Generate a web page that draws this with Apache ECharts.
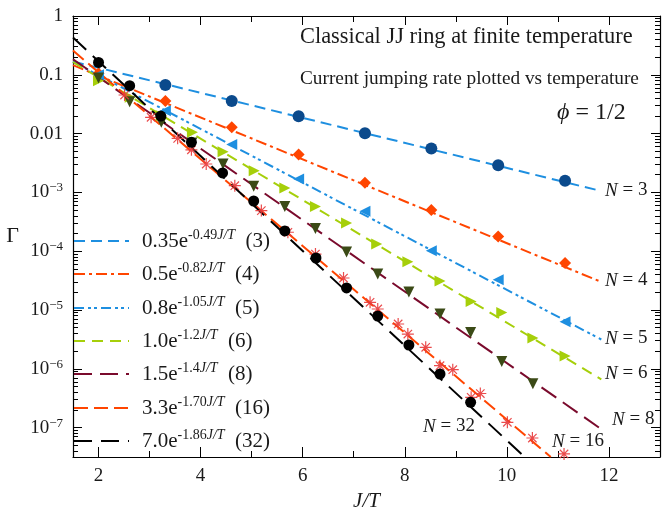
<!DOCTYPE html>
<html>
<head>
<meta charset="utf-8">
<script src="https://cdn.jsdelivr.net/npm/echarts@6/dist/echarts.min.js"></script>
<style>
  html, body { margin: 0; padding: 0; background: #fff; }
  #chart { width: 664px; height: 511px; }
</style>
</head>
<body>
<div id="chart"></div>
<script>
const SERIF = '"Liberation Serif", "Times New Roman", serif';
const INK = '#1a1a1a';

// fits  Γ = A e^{-b J/T}, drawn between two end points (straight on log axis)
const fitNames = ['fit3', 'fit4', 'fit5', 'fit6', 'fit8', 'fit16', 'fit32'];
const fitPrefactor = ['0.35', '0.5', '0.8', '1.0', '1.5', '3.3', '7.0'];
const fitExponent = ['-0.49', '-0.82', '-1.05', '-1.2', '-1.4', '-1.70', '-1.86'];
const ringSizes = [3, 4, 5, 6, 8, 16, 32];
const fitX = [[1.5, 11.8], [1.5, 11.85], [1.5, 11.85], [1.5, 11.85], [1.5, 11.88], [1.5, 10.86], [1.5, 10.35]];
const fitY = [[0.168, 1.08e-3], [0.146, 3.0e-5], [0.166, 3.15e-6], [0.165, 6.6e-7], [0.184, 9.0e-8], [0.258, 3.16e-8], [0.43, 3.16e-8]];

// simulation points
const n3X = [3.31, 4.61, 5.92, 7.22, 8.52, 9.83, 11.14];
const n3Y = [0.067, 0.0358, 0.0197, 0.0101, 0.0056, 0.0029, 0.00158];
const n4X = [2.0, 3.31, 4.61, 5.92, 7.22, 8.52, 9.83, 11.14];
const n4Y = [0.105, 0.036, 0.0128, 0.0044, 0.00146, 5.0e-4, 1.77e-4, 6.3e-5];
const n5X = [2.0, 3.31, 4.61, 5.92, 7.22, 8.52, 9.83, 11.14];
const n5Y = [0.1, 0.0245, 0.0065, 0.00169, 4.8e-4, 1.02e-4, 3.27e-5, 6.3e-6];
const n6X = [2.0, 2.62, 3.23, 3.84, 4.44, 5.05, 5.65, 6.25, 6.86, 7.45, 8.06, 8.69, 9.30, 9.90, 10.51, 11.14];
const n6Y = [0.079, 0.0414, 0.0201, 0.0105, 0.0049, 0.00234, 0.00119, 5.75e-4, 3.02e-4, 1.32e-4, 6.6e-5, 3.11e-5, 1.4e-5, 9.1e-6, 3.34e-6, 1.65e-6];
const n8X = [2.0, 2.61, 3.23, 3.83, 4.44, 5.04, 5.65, 6.25, 6.86, 7.47, 8.08, 8.69, 9.29, 9.90, 10.51];
const n8Y = [0.088, 0.0349, 0.0156, 0.0069, 0.00304, 0.00127, 5.75e-4, 2.43e-4, 9.7e-5, 4.09e-5, 2.02e-5, 8.55e-6, 4.14e-6, 1.33e-6, 5.58e-7];
const n16X = [2.51, 3.03, 3.55, 3.82, 4.11, 4.67, 5.19, 5.71, 6.25, 6.80, 7.32, 7.47, 7.87, 8.06, 8.41, 8.69, 8.94, 9.30, 9.48, 10.01, 10.50, 11.12];
const n16Y = [0.0453, 0.0189, 0.0083, 0.0053, 0.00304, 0.0013, 4.9e-4, 2.1e-4, 8.95e-5, 3.5e-5, 1.35e-5, 1.04e-5, 5.78e-6, 3.9e-6, 2.32e-6, 1.13e-6, 9.66e-7, 3.27e-7, 3.8e-7, 1.23e-7, 6.65e-8, 3.56e-8];
const n32X = [2.0, 2.61, 3.22, 3.82, 4.43, 5.04, 5.65, 6.26, 6.86, 7.47, 8.08, 8.69, 9.29];
const n32Y = [0.162, 0.0653, 0.0199, 0.00711, 0.00214, 7.14e-4, 2.21e-4, 7.66e-5, 2.37e-5, 7.9e-6, 2.54e-6, 8.16e-7, 2.69e-7];

const pointsX = [n3X, n4X, n5X, n6X, n8X, n16X, n32X];
const pointsY = [n3Y, n4Y, n5Y, n6Y, n8Y, n16Y, n32Y];

const xMajor = [2, 4, 6, 8, 10, 12];
const xMinor = [3, 5, 7, 9, 11, 13];

// styles
const lineColors = ['#1e8fe0', '#ff4500', '#1e8fe0', '#a6cf0a', '#7a0a2c', '#ff4500', '#000000'];
const lineDash = [[11, 6], [11, 4, 3, 4], [10, 4, 3, 3, 3, 4], [11, 7], [18, 8], [14, 6], [18, 9]];
const ASTERISK = 'path://M5,0L5,10M0,5L10,5M1.5,1.5L8.5,8.5M1.5,8.5L8.5,1.5';
const markers = [
  { symbol: 'circle', size: 12, rotate: 0, color: '#0b4a8c' },
  { symbol: 'diamond', size: 12, rotate: 0, color: '#ff4500' },
  { symbol: 'triangle', size: 11, rotate: 90, color: '#1e8fe0' },
  { symbol: 'triangle', size: 11, rotate: -90, color: '#a6cf0a' },
  { symbol: 'triangle', size: 11, rotate: 180, color: '#3b4a16' },
  { symbol: ASTERISK, size: 12, rotate: 0, color: '#e8383a' },
  { symbol: 'circle', size: 11, rotate: 0, color: '#000000' },
];
const legendCenters = [241, 274, 308, 341, 374, 408, 441];
const nLabels = [[605, 192], [605, 282], [605, 340], [605, 375], [612, 421], [552, 443], [423, 428]];

// y minor ticks, log10 positions (decorative axes)
const yMinorTicks = [];
for (let n = -8; n < 0; n++) {
  for (let k = 2; k < 10; k++) {
    const t = n + Math.log10(k);
    if (t > -7.5 && t < 0) yMinorTicks.push(t);
  }
}

function decadeLabel(v) {
  const e = Math.log10(v);
  const r = Math.round(e);
  if (Math.abs(e - r) > 1e-6) return '';
  if (r === 0) return '1';
  if (r === -1) return '0.1';
  if (r === -2) return '0.01';
  return '{b|10}{s|\u2212' + (-r) + '}';
}

const legendText = {};
fitNames.forEach((name, i) => {
  legendText[name] = '{g| }{b|' + fitPrefactor[i] + 'e}{s|' + fitExponent[i] + '}{si|J/T}{b|  (' + ringSizes[i] + ')}';
});

const chart = echarts.init(document.getElementById('chart'), null, { renderer: 'canvas' });

const axisLine = { show: true, onZero: false, lineStyle: { color: '#000', width: 1.2 } };
const tickStyle = { color: '#000', width: 1 };

const series = [];
fitNames.forEach((name, i) => {
  series.push({
    name: name,
    type: 'line',
    xAxisIndex: 0,
    yAxisIndex: 0,
    data: fitX[i].map((x, j) => [x, fitY[i][j]]),
    symbol: 'none',
    showSymbol: false,
    clip: true,
    z: 2,
    lineStyle: { color: lineColors[i], width: 2, type: lineDash[i] },
    itemStyle: { color: lineColors[i] },
  });
});
pointsX.forEach((xs, i) => {
  const m = markers[i];
  const isStar = i === 5;
  series.push({
    name: 'pts' + ringSizes[i],
    type: 'scatter',
    xAxisIndex: 0,
    yAxisIndex: 0,
    data: xs.map((x, j) => [x, pointsY[i][j]]),
    symbol: m.symbol,
    symbolSize: m.size,
    symbolRotate: m.rotate,
    clip: true,
    z: 3 + i,
    itemStyle: isStar
      ? { color: 'rgba(0,0,0,0)', borderColor: m.color, borderWidth: 1.2, opacity: 0.9 }
      : { color: m.color, opacity: 1 },
  });
});

const legends = fitNames.map((name, i) => ({
  data: [name],
  left: 73,
  top: legendCenters[i] - 13,
  orient: 'horizontal',
  padding: 0,
  itemGap: 0,
  itemWidth: 55,
  itemHeight: 14,
  selectedMode: false,
  itemStyle: { color: 'rgba(0,0,0,0)', borderWidth: 0, opacity: 0 },
  formatter: (n) => legendText[n],
  textStyle: {
    color: INK,
    fontFamily: SERIF,
    fontSize: 21,
    rich: {
      g: { width: 8, fontSize: 21, fontFamily: SERIF },
      b: { fontSize: 21, fontFamily: SERIF, color: INK, lineHeight: 26 },
      s: { fontSize: 14, fontFamily: SERIF, color: INK, lineHeight: 14, verticalAlign: 'top' },
      si: { fontSize: 14, fontFamily: SERIF, fontStyle: 'italic', color: INK, lineHeight: 14, verticalAlign: 'top' },
    },
  },
}));

const richN = {
  i: { fontSize: 19, fontFamily: SERIF, fontStyle: 'italic', fill: INK },
  r: { fontSize: 19, fontFamily: SERIF, fill: INK },
};
const graphics = nLabels.map((p, i) => ({
  type: 'text',
  left: p[0],
  top: p[1] - 11,
  z: 20,
  style: {
    text: '{i|N}{r| = ' + ringSizes[i] + '}',
    rich: richN,
    font: '19px ' + SERIF,
    fill: INK,
  },
}));

const option = {
  animation: false,
  backgroundColor: '#fff',
  title: [
    {
      text: 'Classical JJ ring at finite temperature',
      left: 300, top: 25, padding: 0,
      textStyle: { fontFamily: SERIF, fontSize: 22.4, fontWeight: 'normal', color: INK, lineHeight: 24 },
    },
    {
      text: 'Current jumping rate plotted vs temperature',
      left: 300, top: 68, padding: 0,
      textStyle: { fontFamily: SERIF, fontSize: 19.3, fontWeight: 'normal', color: INK, lineHeight: 22 },
    },
    {
      text: '{i|\u03d5}{r| = 1/2}',
      left: 557, top: 100, padding: 0,
      textStyle: {
        fontFamily: SERIF, fontSize: 24, fontWeight: 'normal', color: INK,
        rich: {
          i: { fontSize: 24, fontFamily: SERIF, fontStyle: 'italic', color: INK, lineHeight: 26 },
          r: { fontSize: 24, fontFamily: SERIF, color: INK, lineHeight: 26 },
        },
      },
    },
  ],
  grid: { left: 73, right: 4, top: 16, bottom: 54, containLabel: false, outerBoundsMode: 'none' },
  legend: legends,
  graphic: graphics,
  xAxis: [
    {
      type: 'value', position: 'bottom', min: 1.5, max: 13,
      name: 'J/T', nameLocation: 'middle', nameGap: 30,
      nameTextStyle: { fontFamily: SERIF, fontSize: 21, fontStyle: 'italic', color: INK },
      axisLine: axisLine,
      axisTick: { show: true, inside: true, length: 10, lineStyle: tickStyle, customValues: xMajor },
      axisLabel: { show: true, customValues: xMajor, margin: 10, fontFamily: SERIF, fontSize: 19, color: INK },
      splitLine: { show: false },
    },
    {
      type: 'value', position: 'bottom', min: 1.5, max: 13,
      axisLine: { show: false, onZero: false },
      axisTick: { show: true, inside: true, length: 6, lineStyle: tickStyle, customValues: xMinor },
      axisLabel: { show: false },
      splitLine: { show: false },
    },
    {
      type: 'value', position: 'top', min: 1.5, max: 13,
      axisLine: axisLine,
      axisTick: { show: true, inside: true, length: 9, lineStyle: tickStyle, customValues: xMajor },
      axisLabel: { show: false },
      splitLine: { show: false },
    },
    {
      type: 'value', position: 'top', min: 1.5, max: 13,
      axisLine: { show: false, onZero: false },
      axisTick: { show: true, inside: true, length: 6, lineStyle: tickStyle, customValues: xMinor },
      axisLabel: { show: false },
      splitLine: { show: false },
    },
  ],
  yAxis: [
    {
      type: 'log', position: 'left', min: 3.1623e-8, max: 1, logBase: 10,
      name: '\u0393', nameLocation: 'middle', nameGap: 54, nameRotate: 0,
      nameTextStyle: { fontFamily: SERIF, fontSize: 22, color: INK },
      axisLine: axisLine,
      axisTick: { show: true, inside: true, length: 9, lineStyle: tickStyle },
      axisLabel: {
        show: true, margin: 10, formatter: decadeLabel,
        fontFamily: SERIF, fontSize: 19, color: INK,
        rich: {
          b: { fontFamily: SERIF, fontSize: 19, color: INK, lineHeight: 22 },
          s: { fontFamily: SERIF, fontSize: 13, color: INK, lineHeight: 13, verticalAlign: 'top' },
        },
      },
      minorTick: { show: false },
      splitLine: { show: false },
    },
    {
      type: 'value', position: 'left', min: -7.5, max: 0,
      axisLine: { show: false, onZero: false },
      axisTick: { show: true, inside: true, length: 5, lineStyle: tickStyle, customValues: yMinorTicks },
      axisLabel: { show: false },
      splitLine: { show: false },
    },
    {
      type: 'log', position: 'right', min: 3.1623e-8, max: 1, logBase: 10,
      axisLine: axisLine,
      axisTick: { show: true, inside: true, length: 9, lineStyle: tickStyle },
      axisLabel: { show: false },
      splitLine: { show: false },
    },
    {
      type: 'value', position: 'right', min: -7.5, max: 0,
      axisLine: { show: false, onZero: false },
      axisTick: { show: true, inside: true, length: 5, lineStyle: tickStyle, customValues: yMinorTicks },
      axisLabel: { show: false },
      splitLine: { show: false },
    },
  ],
  series: series,
};

chart.setOption(option);
</script>
</body>
</html>
